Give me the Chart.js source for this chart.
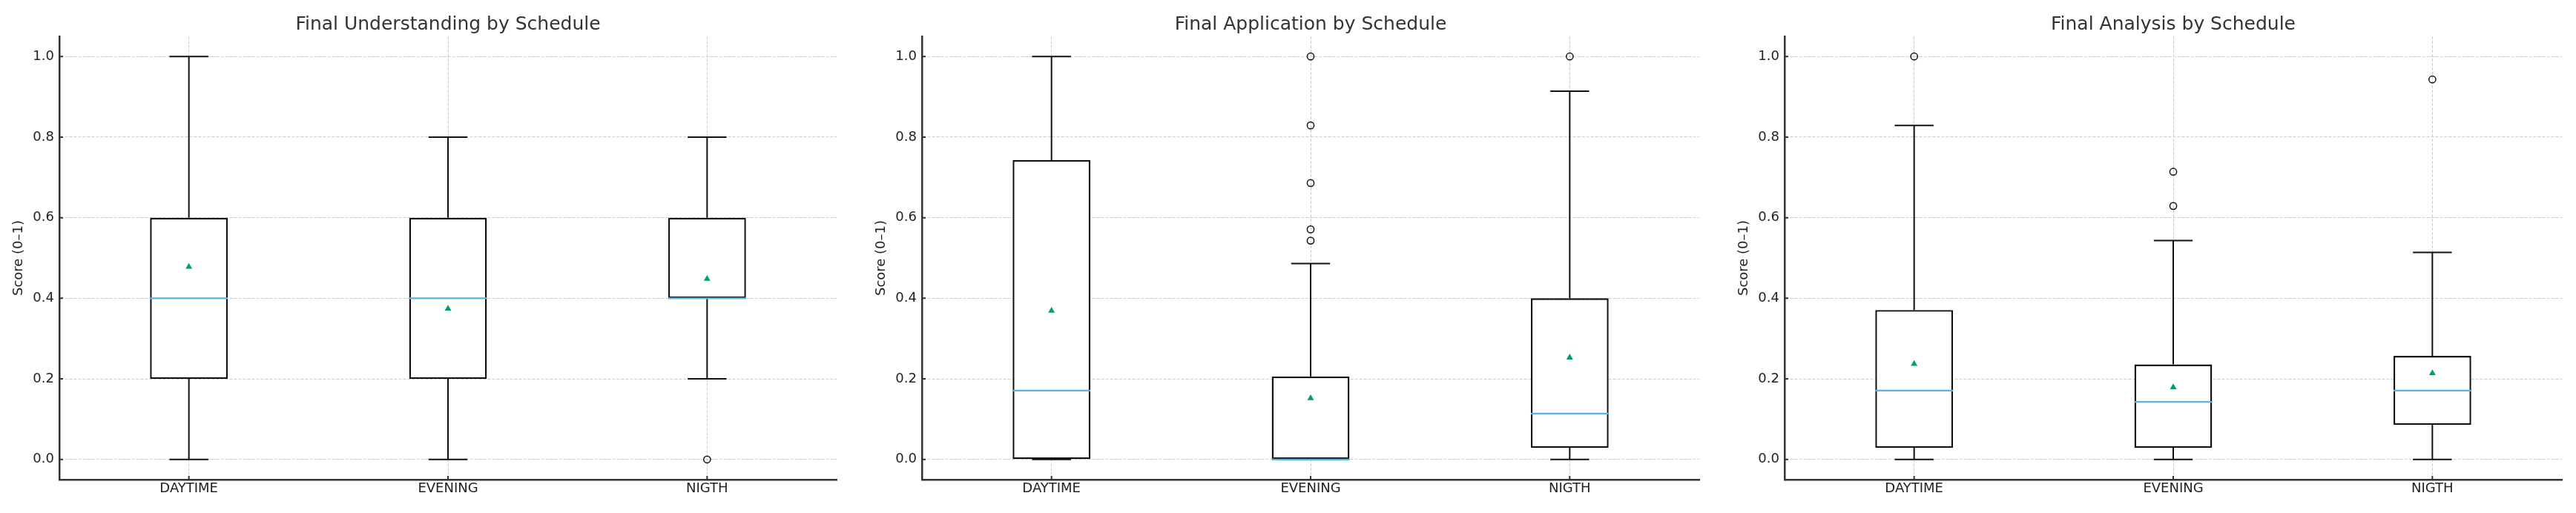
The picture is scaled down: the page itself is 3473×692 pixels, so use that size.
<!DOCTYPE html>
<html>
<head>
<meta charset="utf-8">
<script src="https://cdn.jsdelivr.net/npm/chart.js@4.4.0/dist/chart.umd.min.js"></script>
<style>
  body { margin: 0; background: #fff; width: 3473px; height: 692px; overflow: hidden; position: relative; }
  .panel { position: absolute; top: 0; width: 1140px; height: 692px; }
</style>
</head>
<body>
<div class="panel" style="left:0px"><canvas id="chartUnd" width="1140" height="692"></canvas></div>
<div class="panel" style="left:1163px"><canvas id="chartApp" width="1140" height="692"></canvas></div>
<div class="panel" style="left:2326px"><canvas id="chartAna" width="1140" height="692"></canvas></div>
<script>
const categories = ["DAYTIME", "EVENING", "NIGTH"];
const yTicks = [0, 0.2, 0.4, 0.6, 0.8, 1.0];

// Final Understanding
const undMin = [0, 0, 0.2];
const undQ1 = [0.2, 0.2, 0.4];
const undMedian = [0.4, 0.4, 0.4];
const undQ3 = [0.6, 0.6, 0.6];
const undMax = [1.0, 0.8, 0.8];
const undMean = [0.478, 0.374, 0.448];
const undOutliers = [[], [], [0]];

// Final Application
const appMin = [0, 0, 0];
const appQ1 = [0, 0, 0.029];
const appMedian = [0.171, 0, 0.114];
const appQ3 = [0.743, 0.206, 0.4];
const appMax = [1.0, 0.486, 0.914];
const appMean = [0.369, 0.152, 0.253];
const appOutliers = [[], [1.0, 0.829, 0.686, 0.571, 0.543], [1.0]];

// Final Analysis
const anaMin = [0, 0, 0];
const anaQ1 = [0.029, 0.029, 0.086];
const anaMedian = [0.171, 0.143, 0.171];
const anaQ3 = [0.371, 0.236, 0.257];
const anaMax = [0.829, 0.543, 0.514];
const anaMean = [0.237, 0.179, 0.214];
const anaOutliers = [[1.0], [0.714, 0.629], [0.943]];

const boxWidth = 0.3;
const fontFamily = "'DejaVu Sans', 'Liberation Sans', sans-serif";

// small inward tick marks, like the matplotlib style
const innerTicks = {
  id: "innerTicks",
  afterDatasetsDraw(chart) {
    const ctx = chart.ctx;
    const area = chart.chartArea;
    ctx.save();
    ctx.strokeStyle = "#333";
    ctx.lineWidth = 2;
    ctx.beginPath();
    chart.scales.y.ticks.forEach((t) => {
      const py = chart.scales.y.getPixelForValue(t.value);
      ctx.moveTo(area.left, py);
      ctx.lineTo(area.left + 5, py);
    });
    chart.scales.x.ticks.forEach((t) => {
      const px = chart.scales.x.getPixelForValue(t.value);
      ctx.moveTo(px, area.bottom);
      ctx.lineTo(px, area.bottom - 5);
    });
    ctx.stroke();
    ctx.restore();
  },
};

function createBoxplot(id, title, min, q1, median, q3, max, mean, outliers) {
  const whiskers = [];
  const medians = [];
  const outlierPoints = [];
  categories.forEach((c, i) => {
    const x = i + 1;
    whiskers.push({ x: x, y: q1[i] }, { x: x, y: min[i] }, { x: x, y: null });
    whiskers.push({ x: x, y: q3[i] }, { x: x, y: max[i] }, { x: x, y: null });
    whiskers.push({ x: x - boxWidth / 4, y: min[i] }, { x: x + boxWidth / 4, y: min[i] }, { x: x, y: null });
    whiskers.push({ x: x - boxWidth / 4, y: max[i] }, { x: x + boxWidth / 4, y: max[i] }, { x: x, y: null });
    medians.push({ x: x - boxWidth / 2, y: median[i] }, { x: x + boxWidth / 2, y: median[i] }, { x: x, y: null });
    outliers[i].forEach((v) => outlierPoints.push({ x: x, y: v }));
  });

  const config = {
    type: "scatter",
    data: {
      datasets: [
        {
          type: "scatter",
          data: mean.map((v, i) => ({ x: i + 1, y: v })),
          pointStyle: "triangle",
          pointRadius: 5.2,
          backgroundColor: "#009E73",
          borderColor: "#009E73",
          borderWidth: 0,
        },
        {
          type: "scatter",
          data: medians,
          showLine: true,
          spanGaps: false,
          pointRadius: 0,
          borderColor: "#56B4E9",
          borderWidth: 2.2,
        },
        {
          type: "scatter",
          data: outlierPoints,
          pointStyle: "circle",
          pointRadius: 4.6,
          borderWidth: 1.5,
          borderColor: "#111",
          backgroundColor: "rgba(0,0,0,0)",
        },
        {
          type: "bar",
          data: categories.map((c, i) => ({ x: i + 1, y: [q1[i], q3[i]] })),
          backgroundColor: "#ffffff",
          borderColor: "#111",
          borderWidth: 2.4,
          borderSkipped: false,
          categoryPercentage: 1,
          barPercentage: boxWidth,
        },
        {
          type: "scatter",
          data: whiskers,
          showLine: true,
          spanGaps: false,
          pointRadius: 0,
          borderColor: "#111",
          borderWidth: 2,
        },
      ],
    },
    options: {
      responsive: false,
      animation: false,
      devicePixelRatio: 1,
      layout: { padding: { left: 0, right: 12, top: 0, bottom: 0 } },
      scales: {
        x: {
          type: "linear",
          min: 0.5,
          max: 3.5,
          offset: false,
          afterBuildTicks: (s) => {
            s.ticks = categories.map((c, i) => ({ value: i + 1 }));
          },
          afterFit: (s) => {
            s.height = 45;
          },
          ticks: {
            autoSkip: false,
            maxRotation: 0,
            padding: 2,
            color: "#222",
            font: { family: fontFamily, size: 18 },
            callback: (v) => categories[v - 1],
          },
          grid: { color: "#cccccc", lineWidth: 1, drawTicks: false, offset: false },
          border: { color: "#333", width: 2.5, dash: [4, 2] },
        },
        y: {
          type: "linear",
          min: -0.05,
          max: 1.05,
          afterBuildTicks: (s) => {
            s.ticks = yTicks.map((v) => ({ value: v }));
          },
          afterFit: (s) => {
            s.width = 80;
          },
          ticks: {
            padding: 7,
            color: "#222",
            font: { family: fontFamily, size: 18 },
            callback: (v) => v.toFixed(1),
          },
          grid: { color: "#cccccc", lineWidth: 1, drawTicks: false },
          border: { color: "#333", width: 2.5, dash: [4, 2] },
          title: {
            display: true,
            text: "Score (0–1)",
            color: "#222",
            font: { family: fontFamily, size: 18 },
            padding: { top: 15, bottom: 0 },
          },
        },
      },
      plugins: {
        legend: { display: false },
        tooltip: { enabled: false },
        title: {
          display: true,
          text: title,
          fullSize: false,
          color: "#333",
          font: { family: fontFamily, size: 25, weight: "normal" },
          padding: { top: 18, bottom: 1 },
        },
      },
    },
    plugins: [innerTicks],
  };

  return new Chart(document.getElementById(id), config);
}

createBoxplot("chartUnd", "Final Understanding by Schedule", undMin, undQ1, undMedian, undQ3, undMax, undMean, undOutliers);
createBoxplot("chartApp", "Final Application by Schedule", appMin, appQ1, appMedian, appQ3, appMax, appMean, appOutliers);
createBoxplot("chartAna", "Final Analysis by Schedule", anaMin, anaQ1, anaMedian, anaQ3, anaMax, anaMean, anaOutliers);
</script>
</body>
</html>
